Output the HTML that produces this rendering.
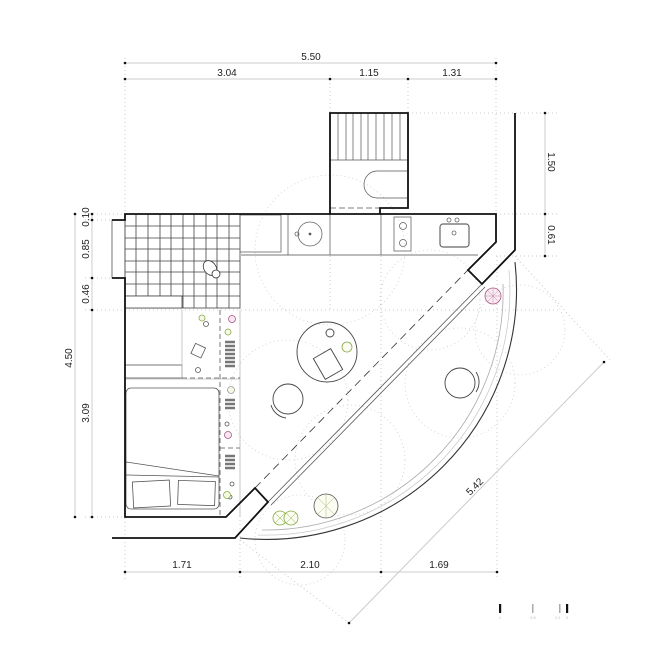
<!DOCTYPE html>
<html><head><meta charset="utf-8"><style>
html,body{margin:0;padding:0;background:#fff;}
svg{display:block;font-family:"Liberation Sans",sans-serif;}
</style></head><body>
<svg width="661" height="669" viewBox="0 0 661 669" xmlns="http://www.w3.org/2000/svg">
<g stroke="#bbb" stroke-width="0.8" stroke-dasharray="1,3" fill="none">
<line x1="125" y1="58" x2="125" y2="580"/>
<line x1="330" y1="75" x2="330" y2="113"/>
<line x1="408" y1="75" x2="408" y2="113"/>
<line x1="496" y1="58" x2="496" y2="214"/>
<line x1="240" y1="256" x2="240" y2="580"/>
<line x1="381" y1="256" x2="381" y2="580"/>
<line x1="497" y1="256" x2="497" y2="580"/>
<line x1="330" y1="256" x2="330" y2="310"/>
<line x1="408" y1="113" x2="560" y2="113"/>
<line x1="85" y1="214" x2="125" y2="214"/>
<line x1="85" y1="220" x2="125" y2="220"/>
<line x1="85" y1="278" x2="125" y2="278"/>
<line x1="85" y1="310" x2="560" y2="310"/>
<line x1="85" y1="517" x2="125" y2="517"/>
<line x1="496" y1="214" x2="560" y2="214"/>
<line x1="496" y1="256" x2="560" y2="256"/>
<line x1="515" y1="256" x2="610" y2="360"/>
<line x1="240" y1="540" x2="349" y2="623"/>
</g>
<g stroke="#ccc" stroke-width="0.8" stroke-dasharray="1,3" fill="none">
<circle cx="330" cy="250" r="75"/>
<circle cx="460" cy="383" r="55"/>
<circle cx="288" cy="400" r="60"/>
<circle cx="350" cy="460" r="55"/>
<circle cx="430" cy="300" r="50"/>
<circle cx="520" cy="330" r="45"/>
<circle cx="300" cy="540" r="45"/>
</g>
<g stroke="#ccc" stroke-width="1" fill="none">
<line x1="125" y1="63" x2="496" y2="63"/>
<line x1="125" y1="79" x2="496" y2="79"/>
<line x1="75" y1="214" x2="75" y2="517"/>
<line x1="92" y1="214" x2="92" y2="517"/>
<line x1="545" y1="113" x2="545" y2="256"/>
<line x1="125" y1="572" x2="497" y2="572"/>
<line x1="604" y1="362" x2="349" y2="623"/>
</g>
<g fill="#111">
<circle cx="125" cy="63" r="1.3"/><circle cx="496" cy="63" r="1.3"/>
<circle cx="125" cy="79" r="1.3"/><circle cx="330" cy="79" r="1.3"/><circle cx="408" cy="79" r="1.3"/><circle cx="496" cy="79" r="1.3"/>
<circle cx="75" cy="214" r="1.3"/><circle cx="75" cy="517" r="1.3"/>
<circle cx="92" cy="214" r="1.3"/><circle cx="92" cy="220" r="1.3"/><circle cx="92" cy="278" r="1.3"/><circle cx="92" cy="310" r="1.3"/><circle cx="92" cy="517" r="1.3"/>
<circle cx="545" cy="113" r="1.3"/><circle cx="545" cy="214" r="1.3"/><circle cx="545" cy="256" r="1.3"/>
<circle cx="125" cy="572" r="1.3"/><circle cx="240" cy="572" r="1.3"/><circle cx="381" cy="572" r="1.3"/><circle cx="497" cy="572" r="1.3"/>
<circle cx="604" cy="362" r="1.3"/><circle cx="349" cy="623" r="1.3"/>
</g>
<g font-size="10" fill="#222" text-anchor="middle">
<text x="311" y="60">5.50</text>
<text x="227" y="76">3.04</text>
<text x="369" y="76">1.15</text>
<text x="452" y="76">1.31</text>
<text x="182" y="568">1.71</text>
<text x="310" y="568">2.10</text>
<text x="439" y="568">1.69</text>
<text transform="translate(72,358) rotate(-90)">4.50</text>
<text transform="translate(89,217) rotate(-90)">0.10</text>
<text transform="translate(89,249) rotate(-90)">0.85</text>
<text transform="translate(89,294) rotate(-90)">0.46</text>
<text transform="translate(89,413) rotate(-90)">3.09</text>
<text transform="translate(548,162) rotate(90)">1.50</text>
<text transform="translate(548,235) rotate(90)">0.61</text>
<text transform="translate(477,489) rotate(-45)">5.42</text>
</g>
<g stroke="#444" stroke-width="0.8">
<rect x="125" y="214" width="115" height="94" fill="none"/>
<path d="M136 214V296M148 214V296M160 214V296M171 214V296M183 214V308M194 214V308M206 214V308M217 214V308M229 214V308
M125 226H240M125 238H240M125 249H240M125 261H240M125 272H240M125 284H240M125 296H240" fill="none"/>
<rect x="125" y="296" width="57" height="12" fill="#fff"/>
</g>
<rect x="112" y="220" width="13" height="58" fill="none" stroke="#555" stroke-width="0.8"/>
<ellipse cx="210" cy="268" rx="6" ry="8" transform="rotate(-35 210 268)" fill="#fff" stroke="#333" stroke-width="0.8"/>
<circle cx="216" cy="274" r="4" fill="#fff" stroke="#333" stroke-width="0.8"/>
<g stroke="#555" stroke-width="0.7">
<path d="M338 113V160M346 113V160M353 113V160M361 113V160M368 113V160M376 113V160M384 113V160M392 113V160M400 113V160M330 160H408" fill="none"/>
<path d="M407 171H377A13 13.5 0 0 0 377 198H407" fill="none"/>
<path d="M330 208H380M330 214H380" stroke-dasharray="6,3" fill="none"/>
</g>
<g stroke="#666" stroke-width="0.8" fill="none">
<line x1="240" y1="255" x2="478" y2="255" stroke="#bbb" stroke-width="2"/>
<rect x="240" y="215" width="41" height="37"/>
<line x1="288" y1="214" x2="288" y2="255"/>
<line x1="330" y1="214" x2="330" y2="255"/>
<line x1="381" y1="214" x2="381" y2="255"/>
<circle cx="310" cy="234" r="12"/>
<circle cx="310" cy="234" r="1" fill="#333"/>
<circle cx="297" cy="234" r="2"/>
<rect x="394" y="217" width="17" height="34"/>
<circle cx="403" cy="226" r="3.5"/><circle cx="403" cy="243" r="3.5"/>
<rect x="440" y="224" width="29" height="23" rx="3" stroke-width="1.2"/>
<circle cx="449" cy="220" r="2"/><circle cx="457" cy="220" r="2"/><circle cx="454" cy="233" r="2"/>
</g>
<g stroke="#555" stroke-width="0.8" fill="none">
<rect x="125" y="365" width="57" height="13"/>
<line x1="125" y1="379" x2="240" y2="379" stroke="#bbb"/>
<rect x="126" y="388" width="93" height="121" rx="5"/>
<line x1="126" y1="462" x2="219" y2="476"/>
<line x1="126" y1="475" x2="219" y2="477"/>
<rect x="133" y="481" width="37" height="26" transform="rotate(-3 151 494)"/>
<rect x="178" y="481" width="37" height="24" transform="rotate(2 196 493)"/>
<rect x="193" y="345" width="11" height="11" transform="rotate(25 198 350)"/>
<circle cx="198" cy="370" r="2.5"/><circle cx="206" cy="324" r="2.5"/><circle cx="230" cy="497" r="2"/><circle cx="227" cy="424" r="2"/><circle cx="232" cy="484" r="2"/>
<line x1="240" y1="310" x2="240" y2="517" stroke="#bbb"/>
<line x1="182" y1="310" x2="182" y2="378" stroke="#bbb"/>
<path d="M220 310V517M182 378H240M220 448H240" stroke-dasharray="5,3"/>
<path d="M225 342h10M225 346h10M225 350h10M225 354h10M225 358h10M225 362h10M225 366h10M225 400h10M225 404h10M225 408h10M225 456h10M225 460h10M225 464h10M225 468h10" stroke-width="2.5" stroke="#777"/>
</g>
<g stroke-width="0.8">
<circle cx="232" cy="319" r="3.5" fill="#f6e8f0" stroke="#a58"/>
<circle cx="228" cy="332" r="3" fill="#f6f8e6" stroke="#8a4"/>
<circle cx="202" cy="318" r="3" fill="#f6f8e6" stroke="#8a4"/>
<circle cx="231" cy="390" r="3.5" fill="#f6f8e6" stroke="#999"/>
<circle cx="228" cy="435" r="3.5" fill="#f6e8f0" stroke="#a58"/>
<circle cx="227" cy="495" r="3.5" fill="#f6f8e6" stroke="#8a4"/>
<circle cx="493" cy="296" r="8" fill="#f8ecf3" stroke="#a58"/>
<path d="M485 296h16M493 288v16M487 290l12 12M499 290l-12 12" stroke="#c8a" stroke-width="0.5"/>
<circle cx="280" cy="518" r="7" fill="#fbfcf2" stroke="#8a4"/>
<circle cx="291" cy="518" r="7" fill="#fbfcf2" stroke="#8a4"/>
<path d="M275 513l10 10M285 513l-10 10M286 513l10 10M296 513l-10 10" stroke="#8a4" stroke-width="0.5"/>
<circle cx="326" cy="506" r="12" fill="#fbfcf2" stroke="#555"/>
<path d="M318 498l16 16M334 498l-16 16M326 494v24" stroke="#ab7" stroke-width="0.5"/>
<circle cx="347" cy="347" r="5" fill="#fbfcf2" stroke="#8a4"/>
</g>
<g stroke="#444" stroke-width="0.9" fill="none">
<circle cx="327" cy="352" r="30"/>
<circle cx="330" cy="333" r="4"/>
<rect x="318" y="352" width="20" height="24" transform="rotate(-30 328 364)" fill="#fff"/>
<circle cx="288" cy="399" r="15"/>
<path d="M271 405A18 18 0 0 0 286 418"/>
<circle cx="460" cy="383" r="15"/>
<path d="M476 372A18 18 0 0 1 476 392"/>
</g>
<g fill="none">
<line x1="268" y1="502" x2="482" y2="284" stroke="#555" stroke-width="0.8"/>
<line x1="271" y1="505" x2="485" y2="287" stroke="#555" stroke-width="0.8"/>
<line x1="255" y1="488" x2="468" y2="270" stroke="#333" stroke-width="0.8" stroke-dasharray="8,5"/>
<path d="M240 538A250 250 0 0 0 515 262" stroke="#333" stroke-width="1.1"/>
<path d="M262 530A238 238 0 0 0 503 284" stroke="#aaa" stroke-width="0.8"/>
<path d="M258 535A244 244 0 0 0 509 270" stroke="#ccc" stroke-width="0.8"/>
</g>
<g stroke="#111" stroke-width="1.8" fill="none" stroke-linejoin="miter">
<path d="M330 214V113H408V208H380V214"/>
<path d="M112 220H125V214H496V242L468 270L482 284L515 250V113"/>
<path d="M112 278H125V517H226L255 488L268 502L235 538H112"/>
</g>
<g>
<rect x="499" y="604" width="2.2" height="9" fill="#111"/>
<rect x="532" y="604" width="1.5" height="9" fill="#aaa"/>
<rect x="559" y="604" width="1.5" height="9" fill="#aaa"/>
<rect x="566" y="604" width="2.2" height="9" fill="#111"/>
<g font-size="4" fill="#bbb" text-anchor="middle"><text x="500" y="619">1</text><text x="533" y="619">0.5</text><text x="558" y="619">0.1</text><text x="567" y="619">0</text></g>
</g>
</svg>
</body></html>
